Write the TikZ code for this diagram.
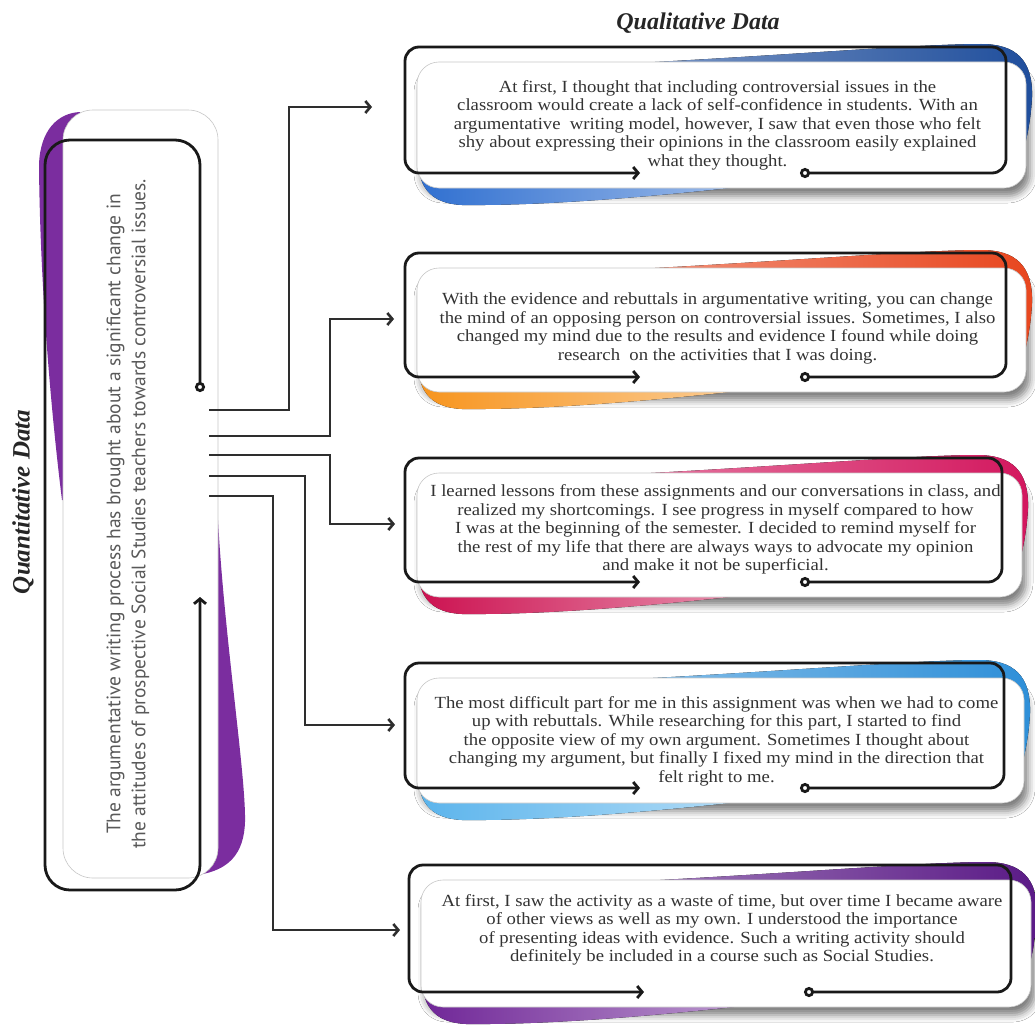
\documentclass[tikz,border=0pt]{standalone}
\usepackage{fontspec}
\setmainfont{Liberation Serif}
\newfontfamily\qfont[FakeStretch=1.1]{Liberation Serif}
\newfontfamily\lsans{PT Sans}
\usetikzlibrary{arrows.meta,shadows.blur}

\definecolor{bAtop}{HTML}{1F4E9C}
\definecolor{bAbot}{HTML}{2F6FD0}
\definecolor{bBtop}{HTML}{E8461E}
\definecolor{bBbot}{HTML}{F7941D}
\definecolor{bCtop}{HTML}{D3175E}
\definecolor{bCbot}{HTML}{CC1150}
\definecolor{bDtop}{HTML}{2E8FD8}
\definecolor{bDbot}{HTML}{5BB4EC}
\definecolor{bEtop}{HTML}{5A1A86}
\definecolor{bEbot}{HTML}{6F2597}
\definecolor{lpurple}{HTML}{7B2D9F}
\definecolor{linecol}{HTML}{2E2E2E}

% #1 x0, #2 top, #3 x1, #4 bottom, #5 top colour, #6 bottom colour, #7 name, #8 text y, #9 text
\newcommand\qualbox[9]{%
  \path[cardshadow] (#1+12,#2+15) rectangle (#3+20,#4+15);
  \fill[left color=#5!55, right color=#5]
    (#3-410,#2+18) .. controls (#3-240,#2+10) and (#3-90,#2-3) .. (#3-25,#2-3)
    .. controls (#3+10,#2-3) and (#3+27,#2+13) .. (#3+26,#2+50)
    .. controls (#3+25,#2+70) and (#3+22,#2+85) .. (#3+19,#2+98)
    -- (#3-5,#2+75) -- (#3-40,#2+25) -- cycle;
  \fill[left color=#6, right color=#6!45]
    (#1+13,#4-30) .. controls (#1+11,#4+5) and (#1+17,#4+30) .. (#1+57,#4+32)
    .. controls (#1+152,#4+33) and (#1+272,#4+21) .. (#1+352,#4+12)
    -- (#1+72,#4+5) -- (#1+32,#4-15) -- cycle;
  \draw[cardfill] (#1+12,#2+15) rectangle (#3+20,#4+15);
  \draw[frameline] (#1+395,#4) -- (#3,#4) -- (#3,#2) -- (#1,#2) -- (#1,#4) -- (#1+235,#4);
  \node[qtext] (#7) at ({(#1+#3)/2+12},#8) {#9};
}

\begin{document}
\begin{tikzpicture}[x=1pt,y=-1pt,
  conn/.style={line width=2.6pt, draw=linecol, -{Straight Barb[length=5pt,width=12pt]}},
  frameline/.style={line width=2.8pt, draw=black!90, rounded corners=14pt,
    {Circle[open,length=10pt,width=10pt,fill=white]}-{Straight Barb[length=5pt,width=12pt]}},
  cardfill/.style={fill=white, draw=black!22, line width=0.6pt, rounded corners=22pt},
  cardshadow/.style={rounded corners=22pt, blur shadow={shadow xshift=4pt, shadow yshift=-8pt, shadow blur radius=7pt, shadow opacity=50}},
  qtext/.style={font=\qfont\fontsize{17}{18.5}\selectfont, text=black!80, align=center, inner sep=0pt},
  ltext/.style={font=\lsans\fontsize{19.5}{25}\selectfont, text=black!65, align=center, inner sep=0pt, rotate=90},
  titletext/.style={font=\fontsize{24}{26}\selectfont\bfseries\itshape, text=black!85, inner sep=0pt}]

\fill[white] (0,0) rectangle (1035,1025);
\useasboundingbox (0,0) rectangle (1035,1025);

% titles
\node[titletext] (qualtitle) at (698,23) {Qualitative Data};
\node[titletext, font=\fontsize{25}{27}\selectfont\bfseries\itshape, rotate=90] (quanttitle) at (23,502) {Quantitative Data};

% left box
\fill[lpurple] (80,112) .. controls (58,113) and (40,130) .. (39,165)
  .. controls (40,290) and (52,420) .. (62,500) -- (80,500) -- cycle;
\fill[lpurple] (217,500) .. controls (222,620) and (244,760) .. (245,815)
  .. controls (246,850) and (232,868) .. (203,874) -- (190,850) -- (200,500) -- cycle;
\draw[cardfill, rounded corners=30pt] (63,110) rectangle (218,878);
\draw[frameline, rounded corners=25pt] (200,392) -- (200,140) -- (45,140) -- (45,890) -- (200,890) -- (200,597);
\node[ltext] (lefttext) at (128,514) {The argumentative writing process has brought about a significant change in\\
the attitudes of prospective Social Studies teachers towards controversial issues.};

% right boxes
\qualbox{405}{47}{1006}{173}{bAtop}{bAbot}{qt1}{125}{At first, I thought that including controversial issues in the\\
classroom would create a lack of self-confidence in students. With an\\
argumentative\ \ writing model, however, I saw that even those who felt\\
shy about expressing their opinions in the classroom easily explained\\
what they thought.}

\qualbox{405}{253}{1006}{377}{bBtop}{bBbot}{qt2}{328.5}{With the evidence and rebuttals in argumentative writing, you can change\\
the mind of an opposing person on controversial issues. Sometimes, I also\\
changed my mind due to the results and evidence I found while doing\\
research\ \ on the activities that I was doing.}

\qualbox{405}{458}{1002}{582}{bCtop}{bCbot}{qt3}{529.5}{I learned lessons from these assignments and our conversations in class, and\\
realized my shortcomings. I see progress in myself compared to how\\
I was at the beginning of the semester. I decided to remind myself for\\
the rest of my life that there are always ways to advocate my opinion\\
and make it not be superficial.}

\qualbox{405}{663}{1004}{788}{bDtop}{bDbot}{qt4}{741}{The most difficult part for me in this assignment was when we had to come\\
up with rebuttals. While researching for this part, I started to find\\
the opposite view of my own argument. Sometimes I thought about\\
changing my argument, but finally I fixed my mind in the direction that\\
felt right to me.}

\qualbox{409}{865}{1011}{992}{bEtop}{bEbot}{qt5}{930}{At first, I saw the activity as a waste of time, but over time I became aware\\
of other views as well as my own. I understood the importance\\
of presenting ideas with evidence. Such a writing activity should\\
definitely be included in a course such as Social Studies.}

% connectors
\coordinate (s1) at (209,410);
\coordinate (s2) at (209,436);
\coordinate (s3) at (209,455);
\coordinate (s4) at (209,476);
\coordinate (s5) at (209,496);
\coordinate (t1) at (372,107);
\coordinate (t2) at (394,319);
\coordinate (t3) at (395,524);
\coordinate (t4) at (395,725);
\coordinate (t5) at (400,930);
\draw[conn] (s1) -- ++(80,0) |- (t1);
\draw[conn] (s2) -- ++(121,0) |- (t2);
\draw[conn] (s3) -- ++(121,0) |- (t3);
\draw[conn] (s4) -- ++(96,0) |- (t4);
\draw[conn] (s5) -- ++(64,0) |- (t5);
\end{tikzpicture}
\end{document}
